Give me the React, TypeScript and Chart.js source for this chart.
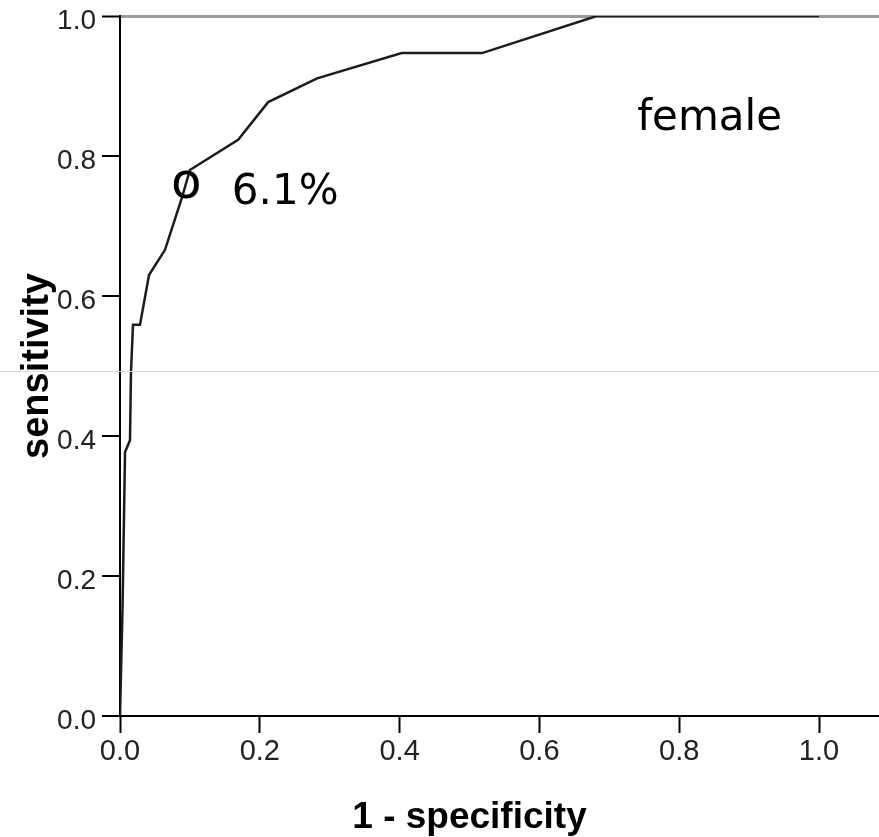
import React, { useEffect, useRef } from "react";
import { Chart, registerables } from "chart.js";

Chart.register(...registerables);

// ROC curve: 1 - specificity (x) vs sensitivity (y)
const fpr = [0, 0.0036, 0.0072, 0.0143, 0.0157, 0.0186, 0.0286, 0.0415, 0.0644, 0.0887, 0.1, 0.169, 0.212, 0.282, 0.403, 0.518, 0.682, 1.0];
const tpr = [0, 0.154, 0.377, 0.394, 0.491, 0.559, 0.559, 0.63, 0.666, 0.741, 0.78, 0.823, 0.877, 0.911, 0.947, 0.947, 1.0, 1.0];

const xTicks = [0, 0.2, 0.4, 0.6, 0.8, 1.0];
const yTicks = [0, 0.2, 0.4, 0.6, 0.8, 1.0];

const xTitle = "1 - specificity";
const yTitle = "sensitivity";

// annotations (text, x, y in data units; y is the text baseline)
const noteTexts = ["o", "6.1%", "female"];
const noteX = [0.095, 0.16, 0.74];
const noteY = [0.74, 0.731, 0.837];
const noteSizes = [50, 42, 42];

const artifactY = 0.493;

const tickFont = "'Liberation Sans Narrow', 'Arial Narrow', 'Liberation Sans', sans-serif";

export default function App() {
  const ref = useRef<HTMLCanvasElement | null>(null);

  useEffect(() => {
    if (!ref.current) return;
    const overlay = {
      id: "overlay",
      afterDatasetsDraw(chart: any) {
        const { ctx, scales } = chart;
        const xs = scales.x;
        const ys = scales.y;
        ctx.save();
        ctx.fillStyle = "#000";
        ctx.textBaseline = "alphabetic";
        for (let i = 0; i < noteTexts.length; i++) {
          const px = xs.getPixelForValue(noteX[i]);
          const py = ys.getPixelForValue(noteY[i]);
          ctx.font = `${noteSizes[i]}px 'DejaVu Sans', sans-serif`;
          ctx.textAlign = noteTexts[i] === "o" ? "center" : "left";
          ctx.fillText(noteTexts[i], px, py);
        }
        ctx.restore();
      },
      afterDraw(chart: any) {
        const { ctx, scales } = chart;
        // x-axis title centred on the 0..1 range
        ctx.save();
        ctx.fillStyle = "#000";
        ctx.font = "bold 37px 'Liberation Sans', Arial, sans-serif";
        ctx.textAlign = "center";
        ctx.textBaseline = "alphabetic";
        ctx.fillText(xTitle, scales.x.getPixelForValue(0.5), 828);
        ctx.restore();

        const py = Math.round(scales.y.getPixelForValue(artifactY)) + 0.5;
        ctx.save();
        ctx.strokeStyle = "#d9e2d2";
        ctx.lineWidth = 1;
        ctx.beginPath();
        ctx.moveTo(0, py);
        ctx.lineTo(chart.width, py);
        ctx.stroke();
        ctx.restore();
      },
    };

    const chart = new Chart(ref.current, {
      type: "line",
      data: {
        datasets: [
          {
            data: fpr.map((v, i) => ({ x: v, y: tpr[i] })),
            borderColor: "#1c1c1c",
            borderWidth: 2.5,
            pointRadius: 0,
            tension: 0,
            fill: false,
          },
        ],
      },
      options: {
        responsive: false,
        animation: false,
        layout: { padding: { top: 16, right: 0, left: 0, bottom: 0 } },
        plugins: { legend: { display: false }, tooltip: { enabled: false } },
        scales: {
          x: {
            type: "linear",
            min: 0,
            max: 759 / 699,
            afterBuildTicks: (s: any) => {
              s.ticks = xTicks.map((v) => ({ value: v }));
            },
            afterFit: (s: any) => {
              s.height = 121;
              s.paddingLeft = 0;
              s.paddingRight = 0;
            },
            border: { display: true, color: "#000", width: 2 },
            grid: {
              display: true,
              drawOnChartArea: false,
              drawTicks: true,
              tickLength: 17,
              tickColor: "#000",
              tickWidth: 2,
              color: "#000",
            },
            ticks: {
              color: "#222",
              padding: 2,
              font: { family: tickFont, size: 29 },
              callback: (v: any) => Number(v).toFixed(1),
              maxRotation: 0,
            },
            title: { display: false },
          },
          y: {
            type: "linear",
            min: 0,
            max: 1,
            afterBuildTicks: (s: any) => {
              s.ticks = yTicks.map((v) => ({ value: v }));
            },
            afterFit: (s: any) => {
              s.width = 120;
              s.paddingTop = 0;
              s.paddingBottom = 0;
            },
            border: { display: true, color: "#000", width: 2 },
            grid: {
              display: true,
              drawOnChartArea: true,
              drawTicks: true,
              tickLength: 18,
              tickColor: "#000",
              tickWidth: 2,
              color: (c: any) => (c.tick && c.tick.value === 1 ? "#9a9a9a" : "rgba(0,0,0,0)"),
              lineWidth: (c: any) => (c.tick && c.tick.value === 1 ? 3 : 0),
            },
            ticks: {
              color: "#222",
              padding: 6,
              labelOffset: 5,
              font: { family: tickFont, size: 28 },
              callback: (v: any) => Number(v).toFixed(1),
            },
            title: {
              display: true,
              text: yTitle,
              color: "#000",
              font: { family: "'Liberation Sans', Arial, sans-serif", size: 38, weight: "bold" },
              padding: { top: 15, bottom: 0 },
            },
          },
        },
      },
      plugins: [overlay],
    } as any);
    return () => chart.destroy();
  }, []);

  return (
    <div style={{ position: "absolute", left: 0, top: 0, width: 879, height: 837, background: "#fff" }}>
      <canvas ref={ref} width={879} height={837} style={{ display: "block" }} />
    </div>
  );
}
